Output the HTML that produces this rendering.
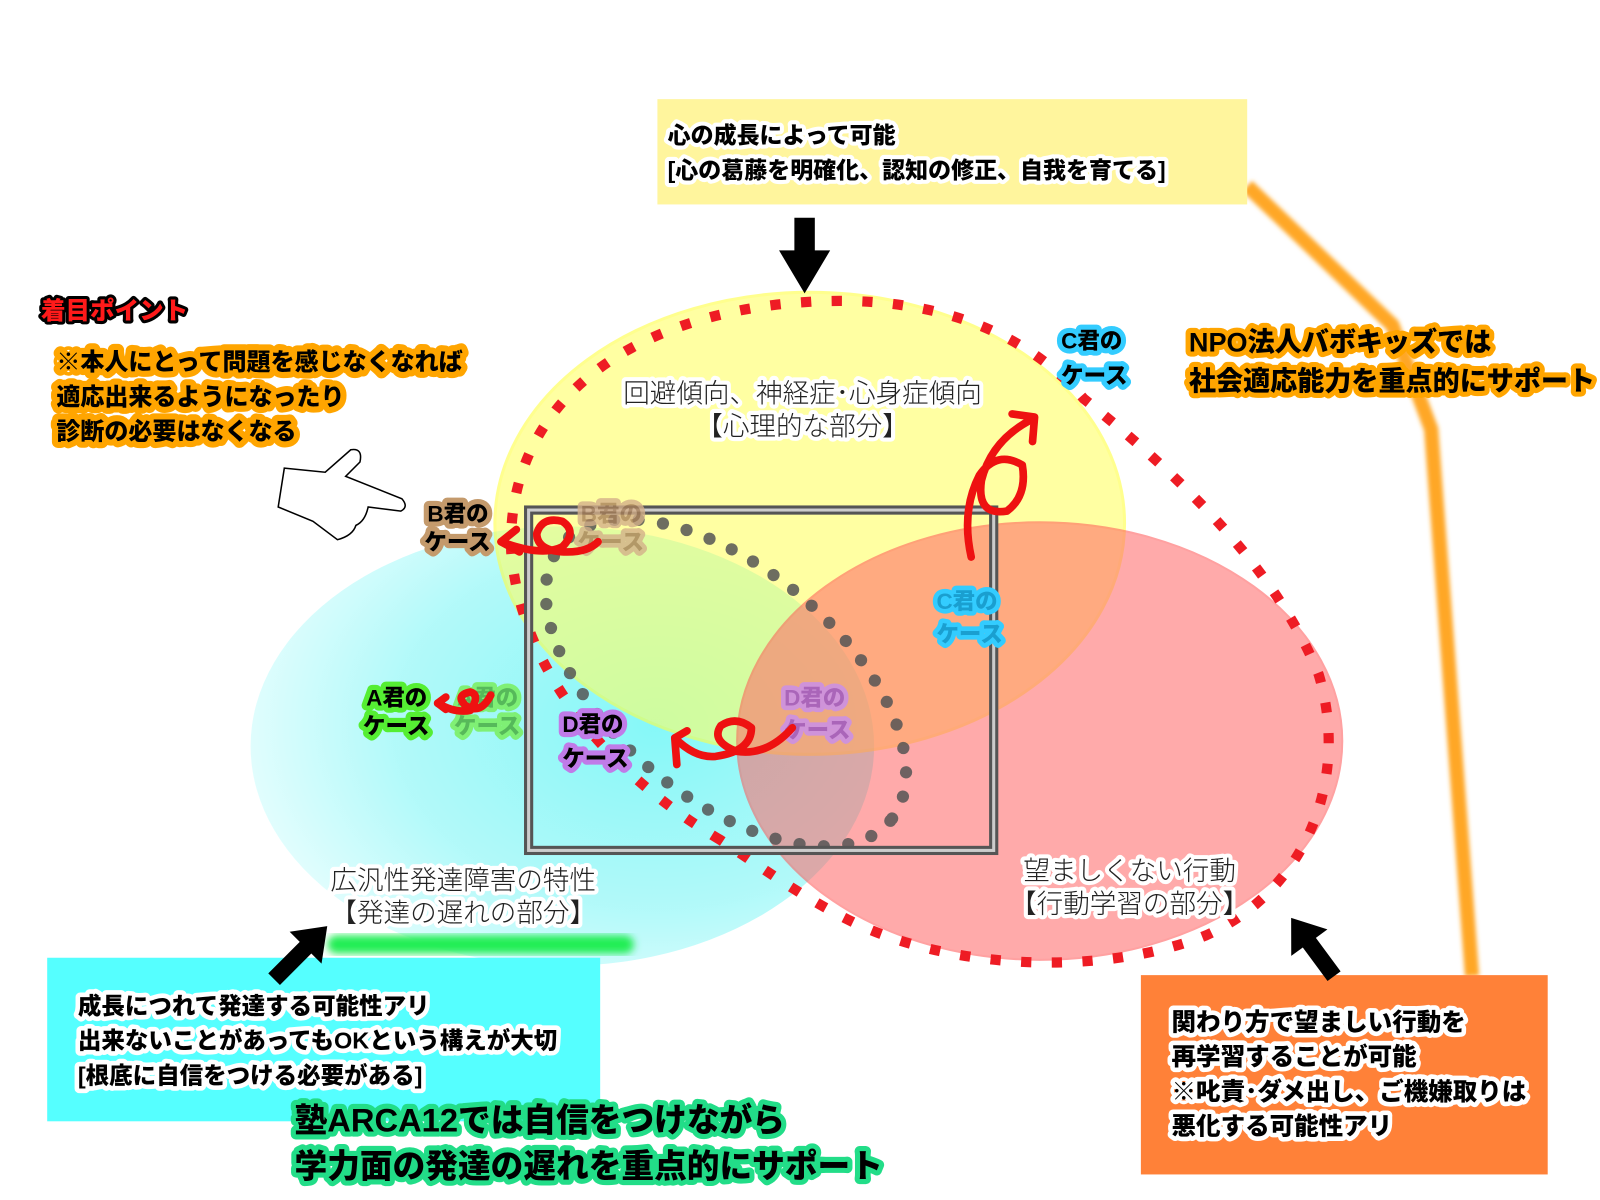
<!DOCTYPE html>
<html><head><meta charset="utf-8"><style>
html,body{margin:0;padding:0;background:#fff;}
svg{display:block}
text{font-family:"Liberation Sans","Noto Sans CJK JP",sans-serif;}
.b{font-weight:900;paint-order:stroke;stroke-linejoin:round}
.n{font-weight:300;paint-order:stroke;stroke-linejoin:round;stroke:#fff;stroke-width:8}
</style></head><body>
<svg width="1600" height="1200" viewBox="0 0 1565 1174" xmlns="http://www.w3.org/2000/svg">
<defs>
<radialGradient id="cy" cx="0.65" cy="0.45" r="0.7">
<stop offset="0" stop-color="#7ff7f7"/><stop offset="0.6" stop-color="#aef9f9"/><stop offset="1" stop-color="#e8fefe"/>
</radialGradient>
<filter id="bl"><feGaussianBlur stdDeviation="4"/></filter>
<filter id="bl2"><feGaussianBlur stdDeviation="2"/></filter>
</defs>

<polyline points="1220,182 1362,318 1400,420 1440,955" fill="none" stroke="#ffa726" stroke-width="14" filter="url(#bl2)"/>

<ellipse cx="550" cy="730" rx="305" ry="215" fill="url(#cy)" opacity="0.95"/>
<ellipse cx="792" cy="512" rx="308" ry="226" fill="#ffff66" opacity="0.6" stroke="#ffff44" stroke-width="3"/>
<ellipse cx="1017" cy="725" rx="296" ry="214" fill="#ff6666" opacity="0.55" stroke="#ff5555" stroke-width="2"/>

<ellipse cx="710" cy="668" rx="210" ry="112" transform="rotate(40 710 668)" fill="none" stroke="#555" stroke-width="12" stroke-linecap="round" stroke-dasharray="0 24" opacity="0.85"/>

<path d="M705,822 C600,760 510,660 500,540 C495,420 580,320 760,298 C900,282 1000,320 1060,390 C1160,470 1250,560 1290,660 C1320,760 1280,870 1180,915 C1080,955 930,950 830,900 C780,875 740,845 705,822 Z" fill="none" stroke="#ee1c24" stroke-width="10" stroke-dasharray="10 20"/>

<rect x="517" y="499" width="455" height="333" fill="none" stroke="#555" stroke-width="9"/>
<rect x="517" y="499" width="455" height="333" fill="none" stroke="#ccc" stroke-width="3"/>

<rect x="643" y="97" width="577" height="103" fill="#fff59d"/>
<text class="b" x="653" y="140" font-size="22.5" stroke="#fff" stroke-width="8" fill="#000">心の成長によって可能</text>
<text class="b" x="653" y="174" font-size="22.5" stroke="#fff" stroke-width="8" fill="#000">[心の葛藤を明確化、認知の修正、自我を育てる]</text>

<polygon points="777,213 797,213 797,245 812,245 787,287 762,245 777,245" fill="#000"/>

<text class="b" x="40" y="312" font-size="24" fill="#ff1a1a" stroke="#000" stroke-width="6">着目ポイント</text>
<text class="b" x="55" y="362" font-size="23.5" fill="#000" stroke="#ffa500" stroke-width="12">※本人にとって問題を感じなくなれば</text>
<text class="b" x="55" y="396" font-size="23.5" fill="#000" stroke="#ffa500" stroke-width="12">適応出来るようになったり</text>
<text class="b" x="55" y="430" font-size="23.5" fill="#000" stroke="#ffa500" stroke-width="12">診断の必要はなくなる</text>

<path d="M278,458 L318,462 L343,440 Q355,438 352,452 L338,466 L393,488 Q400,496 392,500 L360,496 Q357,510 348,514 Q345,524 330,528 L306,510 L272,496 Z" fill="#fff" stroke="#000" stroke-width="1.5"/>

<text class="b" x="1163" y="344" font-size="26.5" fill="#000" stroke="#ffa500" stroke-width="10">NPO法人バボキッズでは</text>
<text class="b" x="1163" y="382" font-size="26.5" fill="#000" stroke="#ffa500" stroke-width="10">社会適応能力を重点的にサポート</text>

<text class="n" x="785" y="394" font-size="26" text-anchor="middle" fill="#222">回避傾向、神経症･心身症傾向</text>
<text class="n" x="785" y="426" font-size="26" text-anchor="middle" fill="#222">【心理的な部分】</text>
<text class="n" x="453" y="870" font-size="26" text-anchor="middle" fill="#222">広汎性発達障害の特性</text>
<text class="n" x="453" y="902" font-size="26" text-anchor="middle" fill="#222">【発達の遅れの部分】</text>
<text class="n" x="1105" y="861" font-size="26" text-anchor="middle" fill="#222">望ましくない行動</text>
<text class="n" x="1105" y="893" font-size="26" text-anchor="middle" fill="#222">【行動学習の部分】</text>

<rect x="320" y="915" width="300" height="18" rx="9" fill="#22ee55" filter="url(#bl)"/>

<g font-size="22">
<text class="b" x="418" y="510" fill="#000" stroke="#c49a6c" stroke-width="10">B君の</text>
<text class="b" x="415" y="538" fill="#000" stroke="#c49a6c" stroke-width="10">ケース</text>
<text class="b" x="568" y="510" fill="#a8805a" stroke="#d4b08a" stroke-width="9" opacity="0.8">B君の</text>
<text class="b" x="565" y="538" fill="#a8805a" stroke="#d4b08a" stroke-width="9" opacity="0.8">ケース</text>
<text class="b" x="1038" y="341" fill="#000" stroke="#33ccff" stroke-width="10">C君の</text>
<text class="b" x="1038" y="375" fill="#000" stroke="#33ccff" stroke-width="10">ケース</text>
<text class="b" x="916" y="596" fill="#1a9fd0" stroke="#33ccff" stroke-width="9">C君の</text>
<text class="b" x="916" y="628" fill="#1a9fd0" stroke="#33ccff" stroke-width="9">ケース</text>
<text class="b" x="358" y="690" fill="#000" stroke="#55ee33" stroke-width="10">A君の</text>
<text class="b" x="355" y="718" fill="#000" stroke="#55ee33" stroke-width="10">ケース</text>
<text class="b" x="447" y="690" fill="#44aa33" stroke="#77ee55" stroke-width="9" opacity="0.8">A君の</text>
<text class="b" x="444" y="718" fill="#44aa33" stroke="#77ee55" stroke-width="9" opacity="0.8">ケース</text>
<text class="b" x="550" y="716" fill="#000" stroke="#c07be8" stroke-width="10">D君の</text>
<text class="b" x="550" y="750" fill="#000" stroke="#c07be8" stroke-width="10">ケース</text>
<text class="b" x="767" y="690" fill="#9a55c8" stroke="#c88ef0" stroke-width="9" opacity="0.8">D君の</text>
<text class="b" x="767" y="722" fill="#9a55c8" stroke="#c88ef0" stroke-width="9" opacity="0.8">ケース</text>
</g>

<g fill="none" stroke="#ee1111" stroke-width="7.5" stroke-linecap="round" stroke-linejoin="round">
<path d="M585,530 Q575,540 555,540 Q525,540 525,522 Q530,505 550,510 Q565,520 550,535 Q530,545 490,530"/>
<path d="M505,518 L490,530 L508,540"/>
<path d="M950,545 Q940,500 958,465 Q975,440 1000,455 Q1005,485 985,500 Q955,505 960,470 Q970,430 1010,410"/>
<path d="M990,405 L1012,408 L1010,432"/>
<path d="M775,712 Q750,740 720,735 Q695,725 705,710 Q720,700 735,712 Q735,735 700,740 Q680,742 660,722"/>
<path d="M672,715 L660,722 L662,748"/>
<path d="M480,680 Q470,700 455,690 Q445,680 460,677 Q470,680 460,695 Q445,698 428,688"/>
<path d="M436,682 L428,688 L436,694"/>
</g>

<rect x="46" y="937" width="541" height="160" fill="#55ffff"/>
<polygon points="320,906 314.4,942.8 304.4,932.9 273.7,963.7 262.3,952.3 293.1,921.5 283.2,911.6" fill="#000"/>

<text class="b" x="76" y="992" font-size="23" fill="#000" stroke="#fff" stroke-width="9">成長につれて発達する可能性アリ</text>
<text class="b" x="76" y="1026" font-size="23" fill="#000" stroke="#fff" stroke-width="9">出来ないことがあってもOKという構えが大切</text>
<text class="b" x="76" y="1060" font-size="23" fill="#000" stroke="#fff" stroke-width="9">[根底に自信をつける必要がある]</text>

<text class="b" x="288" y="1107" font-size="32" fill="#000" stroke="#22dd88" stroke-width="10">塾ARCA12では自信をつけながら</text>
<text class="b" x="288" y="1152" font-size="32" fill="#000" stroke="#22dd88" stroke-width="10">学力面の発達の遅れを重点的にサポート</text>

<rect x="1116" y="954" width="398" height="195" fill="#ff8138"/>
<polygon points="1263,898 1298.5,909.2 1287.2,917.5 1311.4,950.3 1298.6,959.7 1274.4,927 1263.1,935.2" fill="#000"/>
<text class="b" x="1146" y="1008" font-size="24" fill="#000" stroke="#fff" stroke-width="9">関わり方で望ましい行動を</text>
<text class="b" x="1146" y="1042" font-size="24" fill="#000" stroke="#fff" stroke-width="9">再学習することが可能</text>
<text class="b" x="1146" y="1076" font-size="24" fill="#000" stroke="#fff" stroke-width="9">※叱責･ダメ出し、ご機嫌取りは</text>
<text class="b" x="1146" y="1110" font-size="24" fill="#000" stroke="#fff" stroke-width="9">悪化する可能性アリ</text>
</svg>
</body></html>
